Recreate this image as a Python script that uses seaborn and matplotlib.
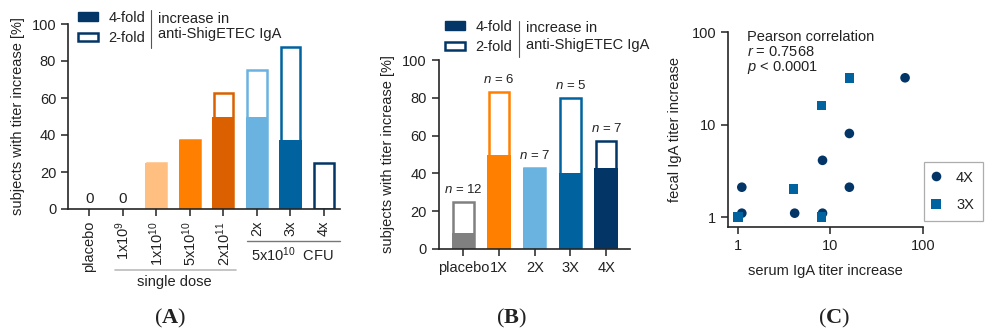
import numpy as np
import pandas as pd
import matplotlib.pyplot as plt
import seaborn as sns
from matplotlib.patches import Patch
from matplotlib.lines import Line2D
from matplotlib.ticker import NullLocator, FixedLocator, FixedFormatter

sns.set_style('ticks')
plt.rcParams['font.family'] = ['Liberation Sans', 'DejaVu Sans']
plt.rcParams['mathtext.fontset'] = 'custom'
plt.rcParams['mathtext.rm'] = 'Liberation Sans'
plt.rcParams['mathtext.it'] = 'Liberation Sans:italic'
plt.rcParams['mathtext.bf'] = 'Liberation Serif:bold'
plt.rcParams['axes.linewidth'] = 1.2
plt.rcParams['xtick.major.width'] = 1.1
plt.rcParams['ytick.major.width'] = 1.1
plt.rcParams['xtick.major.size'] = 5
plt.rcParams['ytick.major.size'] = 5
plt.rcParams['xtick.color'] = '#222222'
plt.rcParams['ytick.color'] = '#222222'
plt.rcParams['text.color'] = '#222222'
plt.rcParams['axes.labelcolor'] = '#222222'

FS = 10.5

# colours
navy = '#033667'
midblue = '#0063A0'
lightblue = '#6AB2E0'
lightorange = '#FFBF80'
orange = '#FF8000'
darkorange = '#DB6100'
grey = '#808080'

# --- data panel A (percent of subjects) ---
a_groups = ['placebo', '1e9', '1e10', '5e10', '2e11', '2x', '3x', '4x']
a_ticklabels = ['placebo', '1x10$^{9}$', '1x10$^{10}$', '5x10$^{10}$', '2x10$^{11}$', '2x', '3x', '4x']
a_total = [0, 0, 25, 37.5, 62.5, 75, 87.5, 25]      # 2-fold or more
a_four = [0, 0, 25, 37.5, 50, 50, 37.5, 0]          # 4-fold
a_colors = [grey, lightorange, lightorange, orange, darkorange, lightblue, midblue, navy]

# --- data panel B ---
b_groups = ['placebo', '1X', '2X', '3X', '4X']
b_total = [25, 83.3, 42.9, 80, 57.1]
b_four = [8.3, 50, 42.9, 40, 42.9]
b_n = [12, 6, 7, 5, 7]
b_colors = [grey, orange, lightblue, midblue, navy]

# --- data panel C ---
c_serum_4x = [1.1, 1.1, 4.1, 8.2, 8.2, 16, 16, 64]
c_fecal_4x = [2.1, 1.1, 1.1, 1.1, 4.1, 8, 2.1, 32]
c_serum_3x = [1, 4, 8, 8, 16]
c_fecal_3x = [1, 2, 16, 1, 32]

W, H = 993, 336
fig = plt.figure(figsize=(W / 100, H / 100), dpi=100)


def px_axes(left, top, right, bottom):
    return fig.add_axes([left / W, 1 - bottom / H, (right - left) / W, (bottom - top) / H])


def stacked_bars(ax, groups, total, four, colors, w_solid, w_line):
    sns.barplot(x=groups, y=total, hue=groups, palette=colors, order=groups, hue_order=groups,
                fill=False, width=w_line, linewidth=1.8, saturation=1, errorbar=None,
                legend=False, ax=ax)
    sns.barplot(x=groups, y=four, hue=groups, palette=colors, order=groups, hue_order=groups,
                width=w_solid, linewidth=0, saturation=1, errorbar=None, legend=False, ax=ax)
    for p in ax.patches:
        if p.get_height() == 0:
            p.set_visible(False)


def fold_legend(x_patch, y1, y2, x_sep, sep_top, sep_bot, x_txt, t1, t2):
    handles = [Patch(facecolor=navy, edgecolor=navy),
               Patch(facecolor='white', edgecolor=navy, linewidth=1.8)]
    fig.legend(handles, ['4-fold', '2-fold'], loc='center left',
               bbox_to_anchor=(x_patch / W, 1 - (y1 + y2) / 2 / H),
               frameon=False, fontsize=FS, handlelength=1.4, handleheight=0.5,
               labelspacing=0.45, borderpad=0, borderaxespad=0, handletextpad=0.7)
    fig.add_artist(Line2D([x_sep / W] * 2, [1 - sep_top / H, 1 - sep_bot / H],
                          color='#555555', lw=0.8))
    fig.text(x_txt / W, 1 - t1 / H, 'increase in', va='center', fontsize=FS)
    fig.text(x_txt / W, 1 - t2 / H, 'anti-ShigETEC IgA', va='center', fontsize=FS)


# ================= Panel A =================
axA = px_axes(68, 24, 340, 209)
stacked_bars(axA, a_groups, a_total, a_four, a_colors, 0.66, 0.58)
axA.set_xlim(-0.635, 7.477)
axA.set_ylim(0, 100)
axA.set_yticks([0, 20, 40, 60, 80, 100])
axA.set_xticks(range(len(a_groups)))
axA.set_xticklabels(a_ticklabels, rotation=90, fontsize=FS)
axA.tick_params(axis='y', labelsize=FS)
axA.set_ylabel('subjects with titer increase [%]', fontsize=FS, labelpad=5)
sns.despine(ax=axA)
for i, v in enumerate(a_total):
    if v == 0:
        axA.text(i, 3.5, '0', ha='center', va='baseline', fontsize=11)

trA = axA.get_xaxis_transform()
axA.plot([0.77, 4.375], [-0.330, -0.330], transform=trA, color='#bbbbbb', lw=1.2, clip_on=False)
axA.text(2.53, -0.395, 'single dose', transform=trA, ha='center', va='center', fontsize=FS)
axA.plot([4.71, 7.477], [-0.173, -0.173], transform=trA, color='#777777', lw=1.0, clip_on=False)
axA.text(6.05, -0.249, '5x10$^{10}$  CFU', transform=trA, ha='center', va='center', fontsize=FS)

fold_legend(78, 18, 38, 151, 10, 48, 158, 19, 34)

# ================= Panel B =================
axB = px_axes(438.5, 60, 630, 249)
stacked_bars(axB, b_groups, b_total, b_four, b_colors, 0.65, 0.58)
axB.set_xlim(-0.695, 4.67)
axB.set_ylim(0, 100)
axB.set_yticks([0, 20, 40, 60, 80, 100])
axB.tick_params(labelsize=FS)
axB.set_ylabel('subjects with titer increase [%]', fontsize=FS, labelpad=5)
sns.despine(ax=axB)
for i, (t, n) in enumerate(zip(b_total, b_n)):
    axB.text(i, t + 3, f'$n$ = {n}', ha='center', va='bottom', fontsize=9.5)

fold_legend(445, 27, 47, 519, 21, 57, 526, 28, 45)

# ================= Panel C =================
axC = px_axes(728, 32, 923, 227)
df_c = pd.DataFrame({
    'serum': c_serum_4x + c_serum_3x,
    'fecal': c_fecal_4x + c_fecal_3x,
    'group': ['4X'] * len(c_serum_4x) + ['3X'] * len(c_serum_3x),
})
sns.scatterplot(data=df_c, x='serum', y='fecal', hue='group', style='group',
                markers={'4X': 'o', '3X': 's'}, palette={'4X': navy, '3X': midblue},
                s=48, linewidth=0, ax=axC)
axC.set_xscale('log')
axC.set_yscale('log')
axC.set_xlim(0.78, 100)
axC.set_ylim(0.78, 100)
for axis in (axC.xaxis, axC.yaxis):
    axis.set_major_locator(FixedLocator([1, 10, 100]))
    axis.set_major_formatter(FixedFormatter(['1', '10', '100']))
    axis.set_minor_locator(NullLocator())
axC.tick_params(labelsize=FS)
axC.set_xlabel('serum IgA titer increase', fontsize=FS, labelpad=8)
axC.set_ylabel('fecal IgA titer increase', fontsize=FS, labelpad=7)
sns.despine(ax=axC)
axC.text(0.097, 0.974, 'Pearson correlation', transform=axC.transAxes, va='center', fontsize=FS)
axC.text(0.097, 0.897, '$r$ = 0.7568', transform=axC.transAxes, va='center', fontsize=FS)
axC.text(0.097, 0.820, '$p$ < 0.0001', transform=axC.transAxes, va='center', fontsize=FS)

sns.move_legend(axC, 'lower left', bbox_to_anchor=(1.005, 0.03), title=None, frameon=True,
                fancybox=False, fontsize=FS, borderpad=0.6, labelspacing=0.95,
                handlelength=0.5, handletextpad=1.1, borderaxespad=0)
legC = axC.get_legend()
legC.get_frame().set_edgecolor('#999999')
legC.get_frame().set_linewidth(0.9)

# panel letters
for x, letter in [(170, 'A'), (511, 'B'), (834, 'C')]:
    fig.text(x / W, 1 - 318 / H, '($\\mathbf{' + letter + '}$)', ha='center', va='center',
             fontsize=16, family=['Liberation Serif'])

fig.savefig('out.png', dpi=100)
